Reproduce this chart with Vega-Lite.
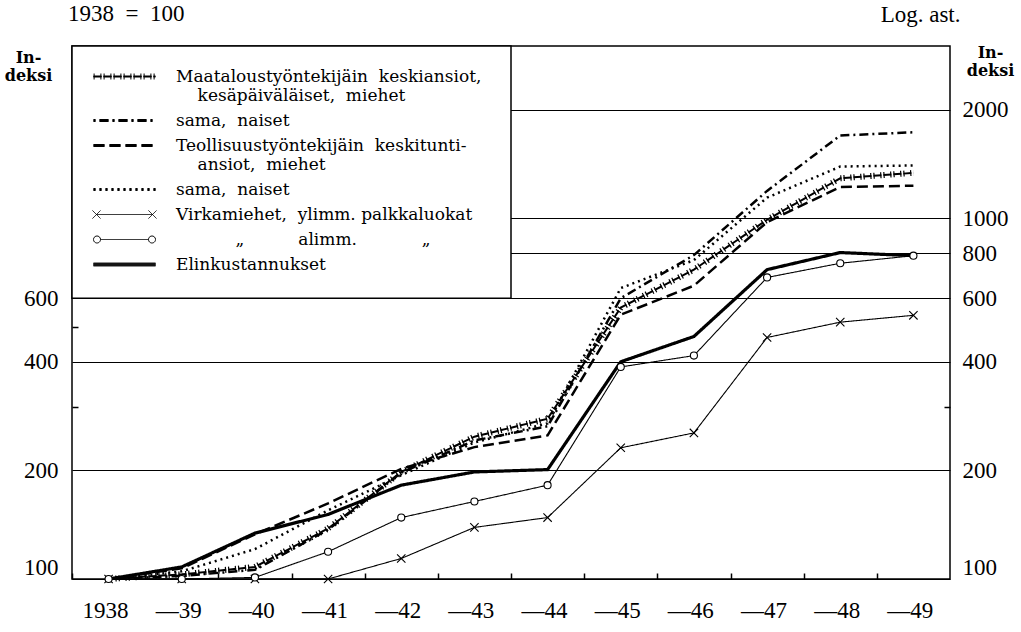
{
  "$schema": "https://vega.github.io/schema/vega-lite/v6.json",
  "width": 878,
  "height": 533,
  "autosize": {"type": "none"},
  "padding": {"left": 72, "top": 46, "right": 71, "bottom": 53},
  "background": "white",
  "config": {
    "view": {"stroke": "black", "strokeWidth": 1.5},
    "axis": {"labelFont": "Liberation Serif", "labelFontSize": 23, "labelColor": "black", "tickColor": "black", "titleColor": "black", "labelOverlap": false, "labelFlush": false, "labelBound": false, "domain": false}
  },
  "title": {"text": "1938\u00a0\u00a0=\u00a0\u00a0100", "anchor": "start", "frame": "group", "font": "Liberation Serif", "fontSize": 23, "fontWeight": "normal", "color": "black", "dx": -4, "dy": 21, "offset": -20, "baseline": "alphabetic"},
  "data": {"values": [
    {"year": 1938, "series": "maa_m", "value": 100}, {"year": 1939, "series": "maa_m", "value": 103}, {"year": 1940, "series": "maa_m", "value": 108}, {"year": 1941, "series": "maa_m", "value": 138}, {"year": 1942, "series": "maa_m", "value": 198}, {"year": 1943, "series": "maa_m", "value": 248}, {"year": 1944, "series": "maa_m", "value": 278}, {"year": 1945, "series": "maa_m", "value": 565}, {"year": 1946, "series": "maa_m", "value": 720}, {"year": 1947, "series": "maa_m", "value": 990}, {"year": 1948, "series": "maa_m", "value": 1290}, {"year": 1949, "series": "maa_m", "value": 1335},
    {"year": 1938, "series": "maa_n", "value": 100}, {"year": 1939, "series": "maa_n", "value": 102}, {"year": 1940, "series": "maa_n", "value": 106}, {"year": 1941, "series": "maa_n", "value": 137}, {"year": 1942, "series": "maa_n", "value": 197}, {"year": 1943, "series": "maa_n", "value": 242}, {"year": 1944, "series": "maa_n", "value": 265}, {"year": 1945, "series": "maa_n", "value": 600}, {"year": 1946, "series": "maa_n", "value": 790}, {"year": 1947, "series": "maa_n", "value": 1190}, {"year": 1948, "series": "maa_n", "value": 1695}, {"year": 1949, "series": "maa_n", "value": 1730},
    {"year": 1938, "series": "teo_m", "value": 100}, {"year": 1939, "series": "teo_m", "value": 107}, {"year": 1940, "series": "teo_m", "value": 133}, {"year": 1941, "series": "teo_m", "value": 162}, {"year": 1942, "series": "teo_m", "value": 202}, {"year": 1943, "series": "teo_m", "value": 232}, {"year": 1944, "series": "teo_m", "value": 250}, {"year": 1945, "series": "teo_m", "value": 540}, {"year": 1946, "series": "teo_m", "value": 650}, {"year": 1947, "series": "teo_m", "value": 975}, {"year": 1948, "series": "teo_m", "value": 1220}, {"year": 1949, "series": "teo_m", "value": 1230},
    {"year": 1938, "series": "teo_n", "value": 100}, {"year": 1939, "series": "teo_n", "value": 105}, {"year": 1940, "series": "teo_n", "value": 121}, {"year": 1941, "series": "teo_n", "value": 155}, {"year": 1942, "series": "teo_n", "value": 194}, {"year": 1943, "series": "teo_n", "value": 239}, {"year": 1944, "series": "teo_n", "value": 270}, {"year": 1945, "series": "teo_n", "value": 640}, {"year": 1946, "series": "teo_n", "value": 765}, {"year": 1947, "series": "teo_n", "value": 1140}, {"year": 1948, "series": "teo_n", "value": 1390}, {"year": 1949, "series": "teo_n", "value": 1400},
    {"year": 1938, "series": "vir_y", "value": 100}, {"year": 1939, "series": "vir_y", "value": 100}, {"year": 1940, "series": "vir_y", "value": 100}, {"year": 1941, "series": "vir_y", "value": 100}, {"year": 1942, "series": "vir_y", "value": 114}, {"year": 1943, "series": "vir_y", "value": 139}, {"year": 1944, "series": "vir_y", "value": 148}, {"year": 1945, "series": "vir_y", "value": 231}, {"year": 1946, "series": "vir_y", "value": 254}, {"year": 1947, "series": "vir_y", "value": 467}, {"year": 1948, "series": "vir_y", "value": 515}, {"year": 1949, "series": "vir_y", "value": 538},
    {"year": 1938, "series": "vir_a", "value": 100}, {"year": 1939, "series": "vir_a", "value": 100}, {"year": 1940, "series": "vir_a", "value": 101}, {"year": 1941, "series": "vir_a", "value": 119}, {"year": 1942, "series": "vir_a", "value": 148}, {"year": 1943, "series": "vir_a", "value": 164}, {"year": 1944, "series": "vir_a", "value": 182}, {"year": 1945, "series": "vir_a", "value": 387}, {"year": 1946, "series": "vir_a", "value": 416}, {"year": 1947, "series": "vir_a", "value": 685}, {"year": 1948, "series": "vir_a", "value": 750}, {"year": 1949, "series": "vir_a", "value": 787},
    {"year": 1938, "series": "elin", "value": 100}, {"year": 1939, "series": "elin", "value": 108}, {"year": 1940, "series": "elin", "value": 134}, {"year": 1941, "series": "elin", "value": 151}, {"year": 1942, "series": "elin", "value": 182}, {"year": 1943, "series": "elin", "value": 198}, {"year": 1944, "series": "elin", "value": 201}, {"year": 1945, "series": "elin", "value": 400}, {"year": 1946, "series": "elin", "value": 470}, {"year": 1947, "series": "elin", "value": 720}, {"year": 1948, "series": "elin", "value": 803}, {"year": 1949, "series": "elin", "value": 787}
  ]},
  "resolve": {"axis": {"x": "independent", "y": "independent"}},
  "layer": [
    {
      "data": {"values": [{}]},
      "mark": {"type": "rect", "fill": "white", "stroke": "black", "strokeWidth": 1.5},
      "encoding": {
        "x": {"datum": 1937.5, "type": "quantitative", "scale": {"domain": [1937.5, 1949.5], "nice": false, "zero": false},
          "axis": {"orient": "bottom", "values": [1937.5, 1938.5, 1939.5, 1940.5, 1941.5, 1942.5, 1943.5, 1944.5, 1945.5, 1946.5, 1947.5, 1948.5], "labelExpr": "datum.value < 1938 ? '1938' : '\u2014' + (datum.value + 0.5 - 1900)", "labelFont": "Liberation Serif", "labelFontSize": 23, "labelOffset": 33, "labelPadding": 26, "labelBaseline": "top", "labelAlign": "center", "tickSize": -6, "tickWidth": 1.5, "grid": false, "title": null, "domain": false}},
        "x2": {"datum": 1943.5},
        "y": {"datum": 600, "type": "quantitative", "scale": {"type": "log", "domain": [100, 3000], "nice": false},
          "axis": {"orient": "left", "values": [100, 200, 300, 400, 500, 600, 800, 1000, 2000], "labelExpr": "indexof([100, 200, 400, 600], datum.value) >= 0 ? '' + datum.value : ''", "labelFont": "Liberation Serif", "labelFontSize": 23, "labelPadding": 20, "labelBaseline": {"condition": {"test": "datum.value == 100", "value": "bottom"}, "value": "middle"}, "grid": true, "gridColor": "black", "gridWidth": 1.2, "gridOpacity": {"condition": {"test": "datum.value == 300 || datum.value == 500", "value": 0}, "value": 1}, "tickSize": -6, "tickWidth": 1.5, "tickOpacity": {"condition": {"test": "datum.value == 300 || datum.value == 500", "value": 1}, "value": 0}, "domain": false, "title": ["In-", "deksi"], "titleAngle": 0, "titleAlign": "center", "titleBaseline": "top", "titleX": -44, "titleY": 3, "titleFont": "DejaVu Serif", "titleFontSize": 16, "titleFontWeight": "bold", "titleLineHeight": 18}},
        "y2": {"datum": 3000}
      }
    },
    {
      "transform": [{"filter": {"field": "series", "oneOf": ["maa_n", "teo_m", "teo_n"]}}],
      "mark": {"type": "line", "stroke": "black", "strokeWidth": 2.5},
      "encoding": {
        "x": {"field": "year", "type": "quantitative", "scale": {"domain": [1937.5, 1949.5], "nice": false, "zero": false},
          "axis": {"orient": "top", "labels": false, "ticks": false, "grid": false, "domain": false, "title": "Log. ast.", "titleFont": "Liberation Serif", "titleFontSize": 23, "titleFontWeight": "normal", "titleX": 888, "titleY": -25, "titleAlign": "right", "titleBaseline": "alphabetic"}},
        "y": {"field": "value", "type": "quantitative", "scale": {"type": "log", "domain": [100, 3000], "nice": false},
          "axis": {"orient": "right", "values": [100, 200, 300, 400, 600, 800, 1000, 2000], "labelExpr": "datum.value == 300 ? '' : '' + datum.value", "labelFont": "Liberation Serif", "labelFontSize": 23, "labelPadding": 18, "labelBaseline": {"condition": {"test": "datum.value == 100", "value": "bottom"}, "value": "middle"}, "grid": false, "tickSize": -6, "tickWidth": 1.5, "tickOpacity": {"condition": {"test": "datum.value == 300", "value": 1}, "value": 0}, "domain": false, "title": ["In-", "deksi"], "titleAngle": 0, "titleAlign": "center", "titleBaseline": "top", "titleX": 40, "titleY": -2, "titleFont": "DejaVu Serif", "titleFontSize": 16, "titleFontWeight": "bold", "titleLineHeight": 18}},
        "strokeDash": {"field": "series", "type": "nominal",
          "scale": {"domain": ["maa_m", "maa_n", "teo_m", "teo_n", "vir_y", "vir_a", "elin"], "range": [[8, 2], [2, 4, 9, 4], [11, 5], [2, 4], [1, 0], [1, 0], [1, 0]]},
          "legend": {
            "orient": "none", "legendX": 14, "legendY": 22, "title": null, "padding": 0,
            "symbolSize": 100, "symbolStrokeWidth": 1, "symbolStrokeColor": "black", "symbolFillColor": "transparent", "symbolOffset": 30, "labelOffset": 43,
            "labelFont": "DejaVu Serif", "labelFontSize": 17, "labelColor": "black", "labelLimit": 1000, "labelBaseline": "middle",
            "rowPadding": 7,
            "labelExpr": "datum.value === 'maa_m' ? ['Maataloustyöntekijäin\u00a0 keskiansiot,', '\u200b\u00a0\u00a0\u00a0\u00a0kesäpäiväläiset,\u00a0 miehet'] : (datum.value === 'maa_n' || datum.value === 'teo_n') ? 'sama,\u00a0 naiset' : datum.value === 'teo_m' ? ['Teollisuustyöntekijäin\u00a0 keskitunti-', '\u200b\u00a0\u00a0\u00a0\u00a0ansiot,\u00a0 miehet'] : datum.value === 'vir_y' ? 'Virkamiehet,\u00a0 ylimm.\u00a0palkkaluokat' : datum.value === 'vir_a' ? '\u200b\u00a0\u00a0\u00a0\u00a0\u00a0\u00a0\u00a0\u00a0\u00a0\u00a0\u00a0\u201e\u00a0\u00a0\u00a0\u00a0\u00a0\u00a0\u00a0\u00a0\u00a0\u00a0alimm.\u00a0\u00a0\u00a0\u00a0\u00a0\u00a0\u00a0\u00a0\u00a0\u00a0\u00a0\u00a0\u201e' : 'Elinkustannukset'"
          }
        }
      }
    },
    {
      "transform": [{"filter": {"field": "series", "equal": "maa_m"}}],
      "mark": {"type": "line", "stroke": "black", "strokeWidth": 2},
      "encoding": {
        "x": {"field": "year", "type": "quantitative", "scale": {"domain": [1937.5, 1949.5], "nice": false, "zero": false}, "axis": null},
        "y": {"field": "value", "type": "quantitative", "scale": {"type": "log", "domain": [100, 3000], "nice": false}, "axis": null},
        "strokeDash": {"field": "series", "type": "nominal", "scale": {"domain": ["maa_m", "maa_n", "teo_m", "teo_n", "vir_y", "vir_a", "elin"], "range": [[8, 2], [2, 4, 9, 4], [11, 5], [2, 4], [1, 0], [1, 0], [1, 0]]}}
      }
    },
    {
      "transform": [{"filter": {"field": "series", "equal": "maa_m"}}],
      "mark": {"type": "line", "stroke": "black", "strokeWidth": 6, "strokeDash": [1.2, 5.6, 1.2, 2]},
      "encoding": {
        "x": {"field": "year", "type": "quantitative", "scale": {"domain": [1937.5, 1949.5], "nice": false, "zero": false}, "axis": null},
        "y": {"field": "value", "type": "quantitative", "scale": {"type": "log", "domain": [100, 3000], "nice": false}, "axis": null}
      }
    },
    {
      "transform": [{"filter": {"field": "series", "oneOf": ["vir_y", "vir_a"]}}],
      "mark": {"type": "line", "stroke": "black", "strokeWidth": 1.1},
      "encoding": {
        "x": {"field": "year", "type": "quantitative", "scale": {"domain": [1937.5, 1949.5], "nice": false, "zero": false}, "axis": null},
        "y": {"field": "value", "type": "quantitative", "scale": {"type": "log", "domain": [100, 3000], "nice": false}, "axis": null},
        "strokeDash": {"field": "series", "type": "nominal", "scale": {"domain": ["maa_m", "maa_n", "teo_m", "teo_n", "vir_y", "vir_a", "elin"], "range": [[8, 2], [2, 4, 9, 4], [11, 5], [2, 4], [1, 0], [1, 0], [1, 0]]}}
      }
    },
    {
      "transform": [{"filter": {"field": "series", "equal": "elin"}}],
      "mark": {"type": "line", "stroke": "black", "strokeWidth": 3.2},
      "encoding": {
        "x": {"field": "year", "type": "quantitative", "scale": {"domain": [1937.5, 1949.5], "nice": false, "zero": false}, "axis": null},
        "y": {"field": "value", "type": "quantitative", "scale": {"type": "log", "domain": [100, 3000], "nice": false}, "axis": null},
        "strokeDash": {"field": "series", "type": "nominal", "scale": {"domain": ["maa_m", "maa_n", "teo_m", "teo_n", "vir_y", "vir_a", "elin"], "range": [[8, 2], [2, 4, 9, 4], [11, 5], [2, 4], [1, 0], [1, 0], [1, 0]]}}
      }
    },
    {
      "transform": [{"filter": "datum.value < 0"}],
      "mark": {"type": "point", "filled": false, "stroke": "black", "strokeWidth": 1},
      "encoding": {
        "x": {"field": "year", "type": "quantitative", "scale": {"domain": [1937.5, 1949.5], "nice": false, "zero": false}, "axis": null},
        "y": {"field": "value", "type": "quantitative", "scale": {"type": "log", "domain": [100, 3000], "nice": false}, "axis": null},
        "shape": {"field": "series", "type": "nominal",
          "scale": {"domain": ["maa_m", "maa_n", "teo_m", "teo_n", "vir_y", "vir_a", "elin"], "range": [
            "M-6.2,-0.1H6.2M-6.2,0H6.2M-6.2,0.1H6.2M-6.08,-0.6V0.6M-4.72,-0.6V0.6M-4.08,-0.6V0.6M-2.72,-0.6V0.6M-2.08,-0.6V0.6M-0.72,-0.6V0.6M-0.08,-0.6V0.6M1.28,-0.6V0.6M1.92,-0.6V0.6M3.28,-0.6V0.6M3.92,-0.6V0.6M5.28,-0.6V0.6M5.92,-0.6V0.6",
            "M-6.2,-0.2H6.2M-6.2,-0.1H6.2M-6.2,0H6.2M-6.2,0.1H6.2M-6.2,0.2H6.2",
            "M-6.2,-0.2H6.2M-6.2,-0.1H6.2M-6.2,0H6.2M-6.2,0.1H6.2M-6.2,0.2H6.2",
            "M-6.2,-0.2H6.2M-6.2,-0.1H6.2M-6.2,0H6.2M-6.2,0.1H6.2M-6.2,0.2H6.2",
            "M-5.6,0H5.6M-6.4,-0.8L-4.8,0.8M-6.4,0.8L-4.8,-0.8M4.8,-0.8L6.4,0.8M4.8,0.8L6.4,-0.8",
            "M-4.8,0H4.8M-4.8,0A0.7,0.7,0,1,1,-6.2,0A0.7,0.7,0,1,1,-4.8,0M6.2,0A0.7,0.7,0,1,1,4.8,0A0.7,0.7,0,1,1,6.2,0",
            "M-6.2,-0.3H6.2M-6.2,-0.2H6.2M-6.2,-0.1H6.2M-6.2,0H6.2M-6.2,0.1H6.2M-6.2,0.2H6.2M-6.2,0.3H6.2"
          ]},
          "legend": {
            "orient": "none", "legendX": 14, "legendY": 22, "title": null, "padding": 0,
            "symbolSize": 100, "symbolStrokeWidth": 1, "symbolStrokeColor": "black", "symbolFillColor": "transparent", "symbolOffset": 30, "labelOffset": 43,
            "labelFont": "DejaVu Serif", "labelFontSize": 17, "labelColor": "black", "labelLimit": 1000, "labelBaseline": "middle",
            "rowPadding": 7,
            "labelExpr": "datum.value === 'maa_m' ? ['Maataloustyöntekijäin\u00a0 keskiansiot,', '\u200b\u00a0\u00a0\u00a0\u00a0kesäpäiväläiset,\u00a0 miehet'] : (datum.value === 'maa_n' || datum.value === 'teo_n') ? 'sama,\u00a0 naiset' : datum.value === 'teo_m' ? ['Teollisuustyöntekijäin\u00a0 keskitunti-', '\u200b\u00a0\u00a0\u00a0\u00a0ansiot,\u00a0 miehet'] : datum.value === 'vir_y' ? 'Virkamiehet,\u00a0 ylimm.\u00a0palkkaluokat' : datum.value === 'vir_a' ? '\u200b\u00a0\u00a0\u00a0\u00a0\u00a0\u00a0\u00a0\u00a0\u00a0\u00a0\u00a0\u201e\u00a0\u00a0\u00a0\u00a0\u00a0\u00a0\u00a0\u00a0\u00a0\u00a0alimm.\u00a0\u00a0\u00a0\u00a0\u00a0\u00a0\u00a0\u00a0\u00a0\u00a0\u00a0\u00a0\u201e' : 'Elinkustannukset'"
          }
        }
      }
    },
    {
      "transform": [{"filter": {"field": "series", "equal": "vir_y"}}],
      "mark": {"type": "point", "shape": "M-1,-1L1,1M-1,1L1,-1", "size": 70, "filled": false, "stroke": "black", "strokeWidth": 1.1, "opacity": 1},
      "encoding": {
        "x": {"field": "year", "type": "quantitative", "scale": {"domain": [1937.5, 1949.5], "nice": false, "zero": false}, "axis": null},
        "y": {"field": "value", "type": "quantitative", "scale": {"type": "log", "domain": [100, 3000], "nice": false}, "axis": null}
      }
    },
    {
      "transform": [{"filter": {"field": "series", "equal": "vir_a"}}],
      "mark": {"type": "point", "shape": "circle", "size": 50, "filled": true, "fill": "white", "stroke": "black", "strokeWidth": 1.1, "opacity": 1},
      "encoding": {
        "x": {"field": "year", "type": "quantitative", "scale": {"domain": [1937.5, 1949.5], "nice": false, "zero": false}, "axis": null},
        "y": {"field": "value", "type": "quantitative", "scale": {"type": "log", "domain": [100, 3000], "nice": false}, "axis": null}
      }
    }
  ]
}
